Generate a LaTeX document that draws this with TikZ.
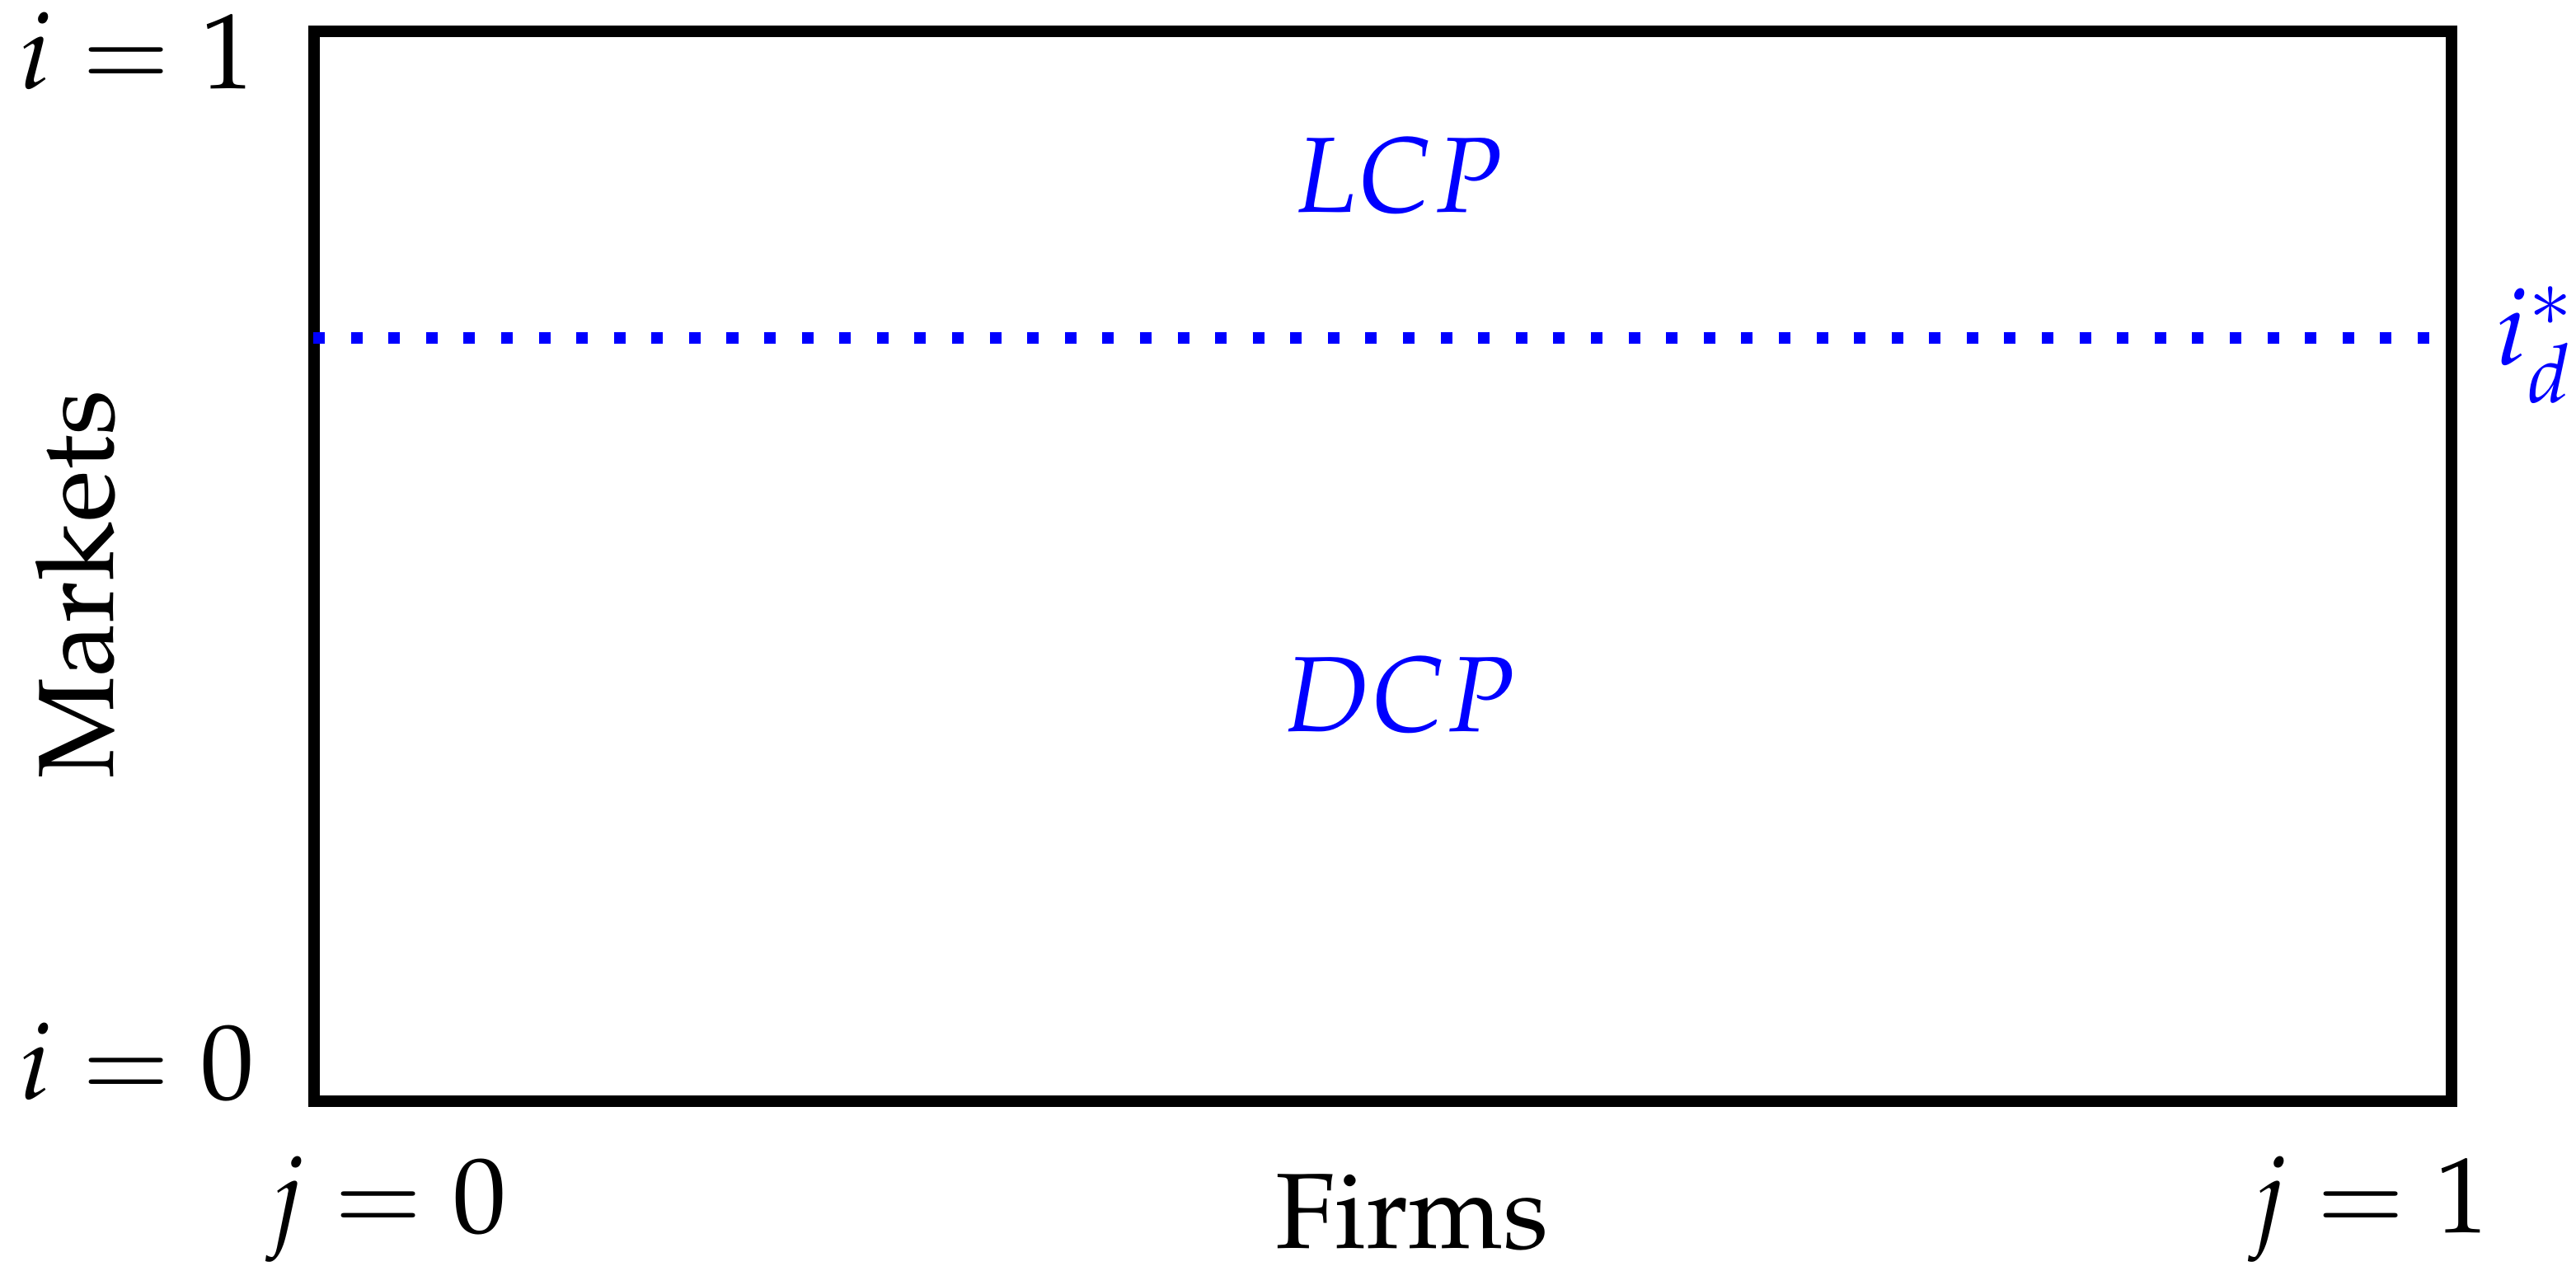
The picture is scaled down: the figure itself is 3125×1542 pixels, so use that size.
\documentclass[tikz,border=0pt]{standalone}
\usepackage[T1]{fontenc}
\usepackage{mathpazo}
\begin{document}
\begin{tikzpicture}[x=0.077pt, y=-0.077pt,
  frame/.style={line width=1.08pt, black},
  cutoff/.style={blue, line width=1.08pt, dash pattern=on 1.08pt off 2.43pt},
  lbl/.style={inner sep=0pt, outer sep=0pt, anchor=base, font=\normalsize},
  regionlbl/.style={lbl, text=blue}]
\useasboundingbox (0,0) rectangle (3125,1542);
% unit square of markets (vertical) by firms (horizontal)
\coordinate (tl) at (381,38);
\coordinate (br) at (2974,1336);
\draw[frame] (tl) rectangle (br);
% threshold market i_d^*
\coordinate (ds) at (380,410);
\coordinate (de) at (2965,410);
\draw[cutoff] (ds) -- (de);
\node[regionlbl, anchor=base west] (istar) at (3028,443) {$i^*_d$};
% region labels
\node[regionlbl] (lcp) at (1696,258) {$LCP$};
\node[regionlbl] (dcp) at (1697,888) {$DCP$};
% axis labels
\node[lbl] (i1) at (166,108) {$i=1$};
\node[lbl] (i0) at (166,1334) {$i=0$};
\node[lbl] (j0) at (470,1496) {$j=0$};
\node[lbl] (j1) at (2875,1496) {$j=1$};
\node[lbl] (firms) at (1713,1515) {Firms};
\node[lbl, rotate=90] (markets) at (137,709) {Markets};
\end{tikzpicture}
\end{document}
